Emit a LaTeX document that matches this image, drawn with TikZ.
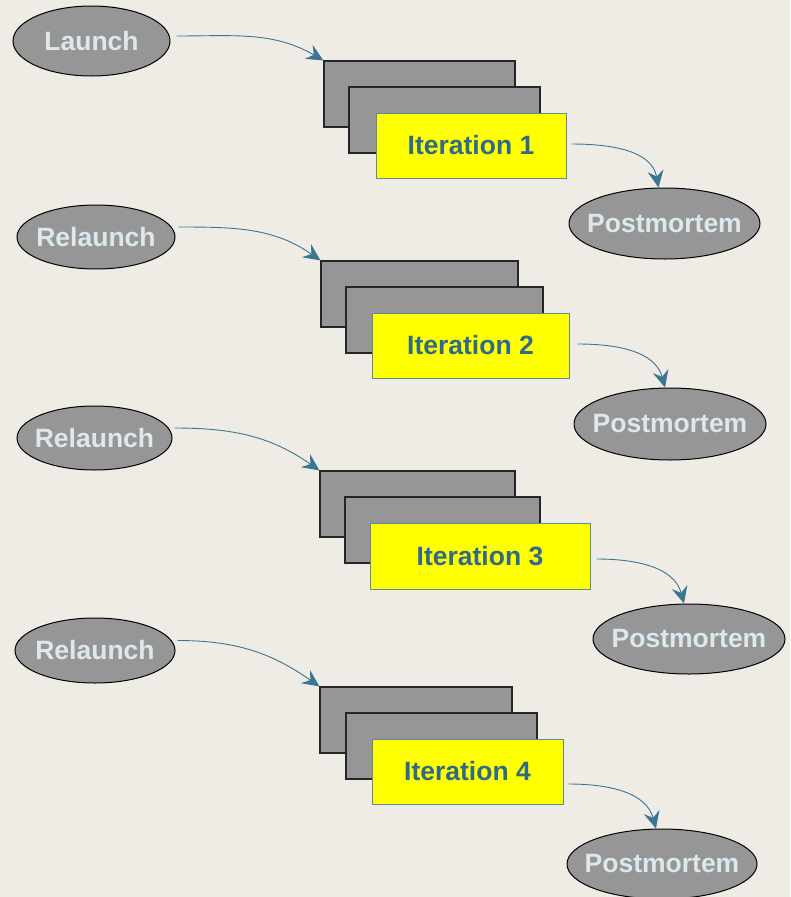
\documentclass[tikz,border=0pt]{standalone}
\usepackage{fontspec}
\setmainfont{Liberation Sans}
\usetikzlibrary{shapes.geometric,arrows.meta}

\definecolor{pagebg}{HTML}{EFECE6}
\definecolor{ovalgray}{HTML}{969696}
\definecolor{ovaltext}{HTML}{DDE8EE}
\definecolor{itertext}{HTML}{2F6A88}
\definecolor{iterframe}{HTML}{5F8A9C}
\definecolor{flow}{HTML}{3A7592}
\definecolor{iterfill}{HTML}{FFFF00}

\tikzset{
  % negative horizontal padding keeps the oval size fixed by minimum width/height
  phase/.style={ellipse, draw=black, line width=1pt, fill=ovalgray,
    inner xsep=-50pt, inner ysep=0pt, text=ovaltext,
    font=\fontsize{26.5}{30}\selectfont\bfseries},
  card/.style={rectangle, draw=black!85, line width=1.2pt, fill=ovalgray,
    inner sep=0pt, minimum height=66pt},
  iterbox/.style={rectangle, draw=iterframe, line width=1pt, fill=iterfill,
    inner sep=0pt, minimum height=65pt, text=itertext,
    font=\fontsize{26.5}{30}\selectfont\bfseries},
  flowarrow/.style={draw=flow, line width=0.9pt,
    -{Stealth[length=17pt,width=16pt,inset=6pt]}}
}

\begin{document}
\begin{tikzpicture}[x=1pt,y=-1pt]
  \fill[pagebg] (0,0) rectangle (790,897);
  \useasboundingbox (0,0) rectangle (790,897);

  % ---- cycle 1 ----
  \node[phase, minimum width=157pt, minimum height=70pt] (start1) at (91.5,41) {Launch};
  \node[card, minimum width=191pt] (backA1) at (419.5,94) {};
  \node[card, minimum width=191pt] (backB1) at (444.5,120) {};
  \node[iterbox, minimum width=190pt] (iter1) at (471,145.5) {Iteration 1};
  \node[phase, minimum width=191pt, minimum height=71pt] (post1) at (664.5,223.5) {Postmortem};
  \draw[flowarrow] ([shift={(6,-5)}]start1.east) to[out=0, in=150] (backA1.north west);
  \draw[flowarrow] ([shift={(5,-1.5)}]iter1.east) to[out=0, in=100] ([xshift=-6pt]post1.north);

  % ---- cycle 2 ----
  \node[phase, minimum width=158pt, minimum height=64pt] (start2) at (96,237) {Relaunch};
  \node[card, minimum width=197pt] (backA2) at (419.5,294) {};
  \node[card, minimum width=197pt] (backB2) at (444.5,320) {};
  \node[iterbox, minimum width=197pt] (iter2) at (470.5,345.5) {Iteration 2};
  \node[phase, minimum width=192pt, minimum height=72pt] (post2) at (670,424) {Postmortem};
  \draw[flowarrow] ([shift={(3,-10)}]start2.east) to[out=0, in=145] (backA2.north west);
  \draw[flowarrow] ([shift={(8,-1.5)}]iter2.east) to[out=0, in=105] ([xshift=-5pt]post2.north);

  % ---- cycle 3 ----
  \node[phase, minimum width=155pt, minimum height=64pt] (start3) at (94.5,438) {Relaunch};
  \node[card, minimum width=195pt] (backA3) at (417.5,504) {};
  \node[card, minimum width=195pt] (backB3) at (442.5,530) {};
  \node[iterbox, minimum width=220pt, minimum height=66pt] (iter3) at (480,556) {Iteration 3};
  \node[phase, minimum width=192pt, minimum height=70pt] (post3) at (689,639) {Postmortem};
  \draw[flowarrow] ([shift={(2,-10)}]start3.east) to[out=0, in=145] (backA3.north west);
  \draw[flowarrow] ([shift={(6,3)}]iter3.east) to[out=0, in=105] ([xshift=-5pt]post3.north);

  % ---- cycle 4 ----
  \node[phase, minimum width=160pt, minimum height=65pt] (start4) at (95,650.5) {Relaunch};
  \node[card, minimum width=192pt] (backA4) at (416,720) {};
  \node[card, minimum width=191pt] (backB4) at (441.5,746) {};
  \node[iterbox, minimum width=191pt] (iter4) at (467.5,771.5) {Iteration 4};
  \node[phase, minimum width=190pt, minimum height=70pt] (post4) at (662,864) {Postmortem};
  \draw[flowarrow] ([shift={(2,-10)}]start4.east) to[out=0, in=145] (backA4.north west);
  \draw[flowarrow] ([shift={(5,12.5)}]iter4.east) to[out=0, in=105] ([xshift=-6pt]post4.north);
\end{tikzpicture}
\end{document}
